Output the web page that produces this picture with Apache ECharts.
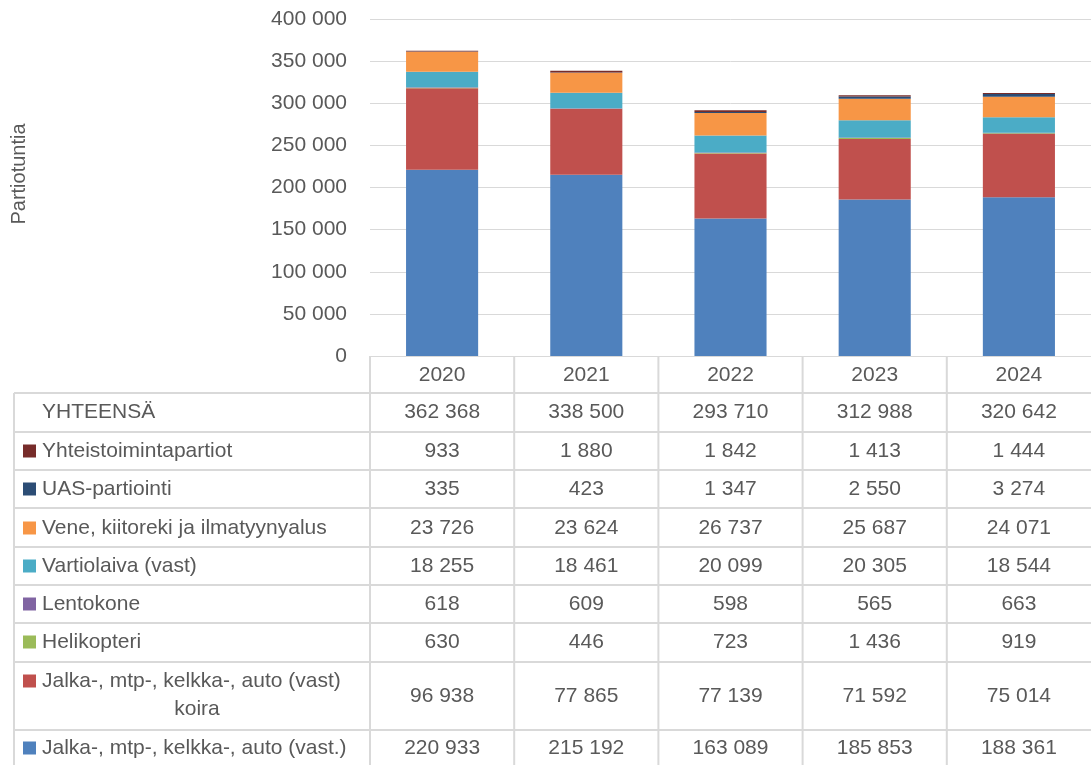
<!DOCTYPE html>
<html>
<head>
<meta charset="utf-8">
<script src="https://cdn.jsdelivr.net/npm/echarts@6/dist/echarts.min.js"></script>
<style>
html,body{margin:0;padding:0;background:#fff;overflow:hidden;}
#chart{width:1091px;height:765px;}
</style>
</head>
<body>
<div id="chart"></div>
<script>
var years = ['2020', '2021', '2022', '2023', '2024'];
var yTicks = [0, 50000, 100000, 150000, 200000, 250000, 300000, 350000, 400000];
var totals = [362368, 338500, 293710, 312988, 320642];
var jalka = [220933, 215192, 163089, 185853, 188361];
var koira = [96938, 77865, 77139, 71592, 75014];
var heli = [630, 446, 723, 1436, 919];
var lento = [618, 609, 598, 565, 663];
var vartio = [18255, 18461, 20099, 20305, 18544];
var vene = [23726, 23624, 26737, 25687, 24071];
var uas = [335, 423, 1347, 2550, 3274];
var yhteis = [933, 1880, 1842, 1413, 1444];

// bottom-to-top stack order
var seriesDefs = [
  {name: 'Jalka-, mtp-, kelkka-, auto (vast.)', data: jalka, color: '#4F81BD'},
  {name: 'Jalka-, mtp-, kelkka-, auto (vast) koira', data: koira, color: '#C0504D'},
  {name: 'Helikopteri', data: heli, color: '#9BBB59'},
  {name: 'Lentokone', data: lento, color: '#8064A2'},
  {name: 'Vartiolaiva (vast)', data: vartio, color: '#4BACC6'},
  {name: 'Vene, kiitoreki ja ilmatyynyalus', data: vene, color: '#F79646'},
  {name: 'UAS-partiointi', data: uas, color: '#2C4D75'},
  {name: 'Yhteistoimintapartiot', data: yhteis, color: '#772C2A'}
];

// table rows, top to bottom
var tableRows = [
  {label: 'YHTEENSÄ', data: totals, key: null},
  {label: 'Yhteistoimintapartiot', data: yhteis, key: '#772C2A'},
  {label: 'UAS-partiointi', data: uas, key: '#2C4D75'},
  {label: 'Vene, kiitoreki ja ilmatyynyalus', data: vene, key: '#F79646'},
  {label: 'Vartiolaiva (vast)', data: vartio, key: '#4BACC6'},
  {label: 'Lentokone', data: lento, key: '#8064A2'},
  {label: 'Helikopteri', data: heli, key: '#9BBB59'},
  {label: 'Jalka-, mtp-, kelkka-, auto (vast)', label2: 'koira', data: koira, key: '#C0504D'},
  {label: 'Jalka-, mtp-, kelkka-, auto (vast.)', data: jalka, key: '#4F81BD'}
];

function fmt(v) {
  return String(v).replace(/\B(?=(\d{3})+(?!\d))/g, ' ');
}

var FONT = 'Liberation Sans';
var TXT = '#595959';
var LINE = '#D9D9D9';

var chart = echarts.init(document.getElementById('chart'));
var option = {
  animation: false,
  backgroundColor: '#fff',
  grid: {left: 370, right: 0, top: 19, bottom: 409, containLabel: false},
  xAxis: {
    type: 'category',
    data: years,
    axisLine: {show: true, lineStyle: {color: LINE, width: 1}},
    axisTick: {show: false},
    axisLabel: {color: TXT, fontFamily: FONT, fontSize: 21, margin: 9},
    splitLine: {show: false}
  },
  yAxis: {
    type: 'value',
    min: yTicks[0],
    max: yTicks[yTicks.length - 1],
    interval: yTicks[1] - yTicks[0],
    axisLine: {show: false},
    axisTick: {show: false},
    axisLabel: {color: TXT, fontFamily: FONT, fontSize: 21, margin: 23, formatter: function (v) { return fmt(v); }},
    splitLine: {show: true, lineStyle: {color: LINE, width: 1}}
  },
  series: seriesDefs.map(function (s) {
    return {
      name: s.name,
      type: 'bar',
      stack: 'total',
      barWidth: '50%',
      data: s.data,
      itemStyle: {color: s.color},
      emphasis: {disabled: true}
    };
  })
};
chart.setOption(option);

// build data table under the axis using the axis' own pixel positions
var centers = years.map(function (y, i) { return chart.convertToPixel({xAxisIndex: 0}, i); });
var band = centers[1] - centers[0];
var bounds = [centers[0] - band / 2];
centers.forEach(function (c) { bounds.push(c + band / 2); });
var axisY = chart.convertToPixel({yAxisIndex: 0}, 0);

var rowLinesY = [393, 432, 470, 508, 547, 585, 623, 662, 730];
var rowCenters = [412, 451, 489, 528, 566, 604, 642, 696, 748];
var tableLeft = 14;
var tableBottom = 765;
var g = [];

rowLinesY.forEach(function (y) {
  g.push({type: 'line', shape: {x1: tableLeft, y1: y, x2: 1091, y2: y}, style: {stroke: LINE, lineWidth: 2}, silent: true});
});
g.push({type: 'line', shape: {x1: tableLeft, y1: rowLinesY[0], x2: tableLeft, y2: tableBottom}, style: {stroke: LINE, lineWidth: 2}, silent: true});
// column separators (header row starts at the axis line)
bounds.forEach(function (x, i) {
  if (i === bounds.length - 1) return;
  g.push({type: 'line', shape: {x1: x, y1: axisY, x2: x, y2: tableBottom}, style: {stroke: LINE, lineWidth: 2}, silent: true});
});

tableRows.forEach(function (r, ri) {
  var cy = rowCenters[ri];
  if (r.label2) {
    g.push({type: 'text', style: {text: r.label, x: 42, y: 681, fill: TXT, font: '21px "' + FONT + '"', textAlign: 'left', textVerticalAlign: 'middle'}, silent: true});
    g.push({type: 'text', style: {text: r.label2, x: 197, y: 709, fill: TXT, font: '21px "' + FONT + '"', textAlign: 'center', textVerticalAlign: 'middle'}, silent: true});
    g.push({type: 'rect', shape: {x: 23, y: 681 - 6.5, width: 13, height: 13}, style: {fill: r.key}, silent: true});
  } else {
    g.push({type: 'text', style: {text: r.label, x: 42, y: cy, fill: TXT, font: '21px "' + FONT + '"', textAlign: 'left', textVerticalAlign: 'middle'}, silent: true});
    if (r.key) {
      g.push({type: 'rect', shape: {x: 23, y: cy - 6.5, width: 13, height: 13}, style: {fill: r.key}, silent: true});
    }
  }
  r.data.forEach(function (v, ci) {
    g.push({type: 'text', style: {text: fmt(v), x: centers[ci], y: cy, fill: TXT, font: '21px "' + FONT + '"', textAlign: 'center', textVerticalAlign: 'middle'}, silent: true});
  });
});

// y-axis title
g.push({type: 'text', x: 19, y: 174, rotation: Math.PI / 2, style: {text: 'Partiotuntia', x: 0, y: 0, fill: TXT, font: '20px "' + FONT + '"', textAlign: 'center', textVerticalAlign: 'middle'}, silent: true});

chart.setOption({graphic: {elements: g}});
</script>
</body>
</html>
